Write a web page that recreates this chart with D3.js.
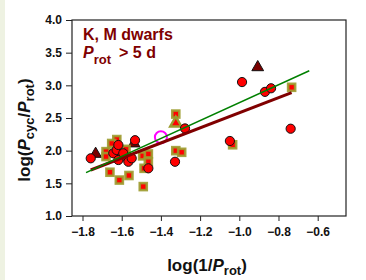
<!DOCTYPE html>
<html><head><meta charset="utf-8">
<script src="https://cdn.jsdelivr.net/npm/d3@7"></script>
<style>body{margin:0;background:#fff;}svg{display:block;font-family:Arial,"Liberation Sans",sans-serif;}</style>
</head><body>
<svg id="c" width="366" height="280"></svg>
<script>
// Data
const circleX = [-1.758,-1.643,-1.626,-1.617,-1.600,-1.617,-1.592,-1.532,-1.566,-1.549,-1.464,-1.328,-1.277,-1.048,-0.986,-0.869,-0.838,-0.738];
const circleY = [1.883,1.960,2.010,2.087,1.908,1.857,1.960,2.160,1.830,1.883,1.730,1.830,2.340,2.148,3.050,2.900,2.955,2.336];
const squareX = [-1.680,-1.680,-1.660,-1.625,-1.651,-1.578,-1.612,-1.563,-1.490,-1.493,-1.464,-1.464,-1.486,-1.324,-1.324,-1.294,-1.034,-0.733];
const squareY = [1.985,1.910,1.670,2.170,2.110,2.020,1.550,1.620,1.450,1.920,1.950,1.830,1.730,2.560,2.000,1.975,2.090,2.970];
const darkTriX = [-1.733,-1.537,-0.906];
const darkTriY = [1.950,2.110,3.276];
const oliveTriX = [-1.324];
const oliveTriY = [2.420];
const openCircleX = [-1.40];
const openCircleY = [2.205];
const fitGreenX = [-1.782,-0.643];
const fitGreenY = [1.663,3.224];
const fitRedX = [-1.758,-0.733];
const fitRedY = [1.704,2.887];
const xTicks = [-1.8,-1.6,-1.4,-1.2,-1.0,-0.8,-0.6];
const yTicks = [1.0,1.5,2.0,2.5,3.0,3.5,4.0];

const svg = d3.select("#c");
const L=72, R=346, T=20, B=216;
const x = d3.scaleLinear().domain([-1.8536,-0.4556]).range([L,R]);
const y = d3.scaleLinear().domain([1,4]).range([B,T]);

svg.append("rect").attr("x",0).attr("y",0).attr("width",5).attr("height",280).attr("fill","#eef2e2");

// axes
const xa = svg.append("g").attr("transform",`translate(0,${B})`)
  .call(d3.axisBottom(x).tickValues(xTicks).tickFormat(d3.format(".1f")).tickSize(5).tickSizeOuter(0));
const ya = svg.append("g").attr("transform",`translate(${L},0)`)
  .call(d3.axisLeft(y).tickValues(yTicks).tickFormat(d3.format(".1f")).tickSize(6).tickSizeOuter(0));
[xa,ya].forEach(g=>{
  g.select(".domain").remove();
  g.selectAll("line").attr("stroke","#222").attr("stroke-width",1);
  g.selectAll("text").attr("font-size","12px").attr("font-weight","bold").attr("fill","#111")
    .attr("font-family","Arial, 'Liberation Sans', sans-serif");
});
xa.selectAll("text").attr("dy","0.71em").attr("y",11);
ya.selectAll("text").attr("x",-10);
svg.append("rect").attr("x",L).attr("y",T).attr("width",R-L).attr("height",B-T)
  .attr("fill","none").attr("stroke","#222").attr("stroke-width",1.2);

// markers
const g = svg.append("g");
const olive = "#9c9c2e";
g.selectAll(".dt").data(darkTriX).join("path")
  .attr("d", d3.symbol(d3.symbolTriangle, 60))
  .attr("transform",(d,i)=>`translate(${x(d)},${y(darkTriY[i])})`)
  .attr("fill","#7a0000").attr("stroke","#111").attr("stroke-width",1);
g.selectAll(".sq").data(squareX).join("rect")
  .attr("x",d=>x(d)-3.5).attr("y",(d,i)=>y(squareY[i])-3.5).attr("width",7).attr("height",7)
  .attr("fill","#ff0000").attr("stroke",olive).attr("stroke-width",2.6).attr("stroke-opacity",0.9);
g.selectAll(".ot").data(oliveTriX).join("path")
  .attr("d", d3.symbol(d3.symbolTriangle, 55))
  .attr("transform",(d,i)=>`translate(${x(d)},${y(oliveTriY[i])})`)
  .attr("fill","#ff0000").attr("stroke",olive).attr("stroke-width",2.4);
g.selectAll(".ci").data(circleX).join("circle")
  .attr("cx",d=>x(d)).attr("cy",(d,i)=>y(circleY[i])).attr("r",4.6)
  .attr("fill","#ff0000").attr("stroke","#111").attr("stroke-width",1);
g.selectAll(".oc").data(openCircleX).join("circle")
  .attr("cx",d=>x(d)).attr("cy",(d,i)=>y(openCircleY[i])).attr("r",6)
  .attr("fill","none").attr("stroke","#ff00ff").attr("stroke-width",2);

// fit lines
const line = d3.line().x(d=>x(d[0])).y(d=>y(d[1]));
svg.append("path").attr("d",line(fitRedX.map((d,i)=>[d,fitRedY[i]])))
  .attr("stroke","#800000").attr("stroke-width",3).attr("fill","none");
svg.append("path").attr("d",line(fitGreenX.map((d,i)=>[d,fitGreenY[i]])))
  .attr("stroke","#008000").attr("stroke-width",1.5).attr("fill","none");

// legend text
const lg = svg.append("g").attr("fill","#800000").attr("font-weight","bold");
lg.append("text").attr("x",83).attr("y",40).attr("font-size","16px").text("K, M dwarfs");
const t2 = lg.append("text").attr("x",83).attr("y",58).attr("font-size","16px");
t2.append("tspan").attr("font-style","italic").text("P");
t2.append("tspan").attr("dy",6).attr("font-size","13px").text("rot");
t2.append("tspan").attr("dy",-6).text("\u2002> 5 d");

// axis titles
const xt = svg.append("text").attr("x",207).attr("y",271).attr("text-anchor","middle")
  .attr("font-size","17px").attr("font-weight","bold").attr("fill","#111");
xt.append("tspan").text("log(1/");
xt.append("tspan").attr("font-style","italic").text("P");
xt.append("tspan").attr("dy",4).attr("font-size","13px").text("rot");
xt.append("tspan").attr("dy",-4).text(")");

const yt = svg.append("text").attr("transform","translate(30,130) rotate(-90)").attr("text-anchor","middle")
  .attr("font-size","17px").attr("font-weight","bold").attr("fill","#111");
yt.append("tspan").text("log(");
yt.append("tspan").attr("font-style","italic").text("P");
yt.append("tspan").attr("dy",4).attr("font-size","13px").text("cyc");
yt.append("tspan").attr("dy",-4).text("/");
yt.append("tspan").attr("font-style","italic").text("P");
yt.append("tspan").attr("dy",4).attr("font-size","13px").text("rot");
yt.append("tspan").attr("dy",-4).text(")");
</script>
</body></html>
